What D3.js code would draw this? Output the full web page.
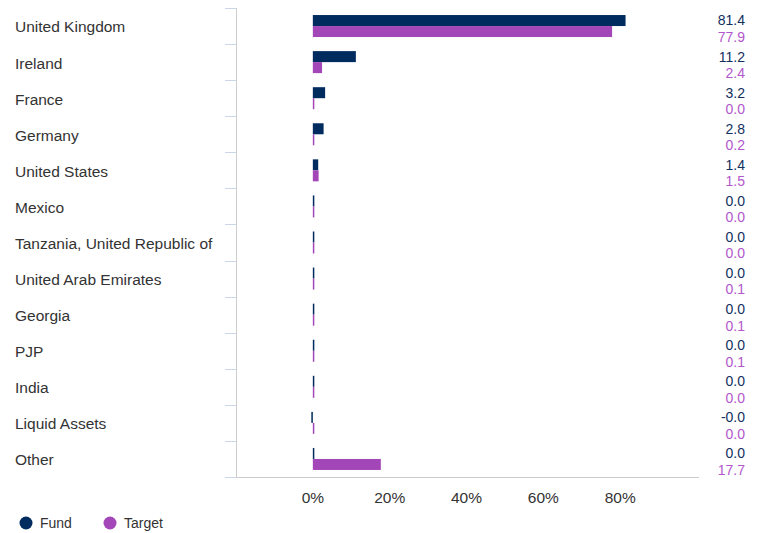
<!DOCTYPE html>
<html>
<head>
<meta charset="utf-8">
<script src="https://cdn.jsdelivr.net/npm/d3@7"></script>
<style>
  body { margin: 0; background: #fff; }
  svg { font-family: "Liberation Sans", Arial, sans-serif; }
</style>
</head>
<body>
<svg width="759" height="533"></svg>
<script>
// countries, top to bottom
var categories = ["United Kingdom", "Ireland", "France", "Germany", "United States", "Mexico",
    "Tanzania, United Republic of", "United Arab Emirates", "Georgia", "PJP", "India",
    "Liquid Assets", "Other"];
var fund = [81.4, 11.2, 3.2, 2.8, 1.4, 0.0, 0.0, 0.0, 0.0, 0.0, 0.0, -0.0, 0.0];
var target = [77.9, 2.4, 0.0, 0.2, 1.5, 0.0, 0.0, 0.1, 0.1, 0.1, 0.0, 0.0, 17.7];
var fundLabels = ["81.4", "11.2", "3.2", "2.8", "1.4", "0.0", "0.0", "0.0", "0.0", "0.0", "0.0", "-0.0", "0.0"];
var targetLabels = ["77.9", "2.4", "0.0", "0.2", "1.5", "0.0", "0.0", "0.1", "0.1", "0.1", "0.0", "0.0", "17.7"];
var xTicks = [0, 20, 40, 60, 80];
var seriesNames = ["Fund", "Target"];

var fundColor = "#002b5e", targetColor = "#a347b8";
var fundText = "#12305e", targetText = "#b257cc";

var svg = d3.select('svg');

var x = d3.scaleLinear().domain([-20, 100]).range([236, 697]);
var y = d3.scaleBand().domain(categories).range([8, 477]);

var sub = d3.scaleBand().domain(seriesNames).range([0, 22]);
var barOffset = (y.bandwidth() - 22) / 2;

// left axis line + tick marks
svg.append('line')
    .attr('x1', 236.5).attr('x2', 236.5)
    .attr('y1', 8).attr('y2', 477)
    .attr('stroke', '#ccc');

var bounds = categories.map(function (c) { return y(c); }).concat([477]);
svg.selectAll('.ytick')
    .data(bounds)
    .enter()
    .append('line')
    .attr('x1', 225).attr('x2', 236)
    .attr('y1', function (d) { return Math.round(d) + 0.5; })
    .attr('y2', function (d) { return Math.round(d) + 0.5; })
    .attr('stroke', '#ccd6eb');

// bottom axis line
svg.append('line')
    .attr('x1', 236).attr('x2', 699)
    .attr('y1', 477.5).attr('y2', 477.5)
    .attr('stroke', '#ccc');

// category labels
svg.selectAll('.cat')
    .data(categories)
    .enter()
    .append('text')
    .attr('x', 15)
    .attr('y', function (d) { return y(d) + y.bandwidth() / 2 + 1; })
    .attr('dy', '0.35em')
    .attr('fill', '#333')
    .style('font-size', '15.5px')
    .text(function (d) { return d; });

// bars
function barX(v) { return v < 0 || v === 0 && 1 / v < 0 ? x(v) - 1.5 : x(0); }
function barW(v) { return Math.max(1.5, Math.abs(x(v) - x(0))); }

var rows = categories.map(function (c, i) {
    return { cat: c, vals: [fund[i], target[i]], fl: fundLabels[i], tl: targetLabels[i] };
});

var groups = svg.selectAll('.row')
    .data(rows)
    .enter()
    .append('g')
    .attr('transform', function (d) { return 'translate(0,' + (y(d.cat) + barOffset) + ')'; });

groups.append('rect')
    .attr('x', function (d) { return barX(d.vals[0]); })
    .attr('y', sub('Fund'))
    .attr('width', function (d) { return barW(d.vals[0]); })
    .attr('height', sub.bandwidth())
    .attr('fill', fundColor);

groups.append('rect')
    .attr('x', function (d) { return barX(d.vals[1]); })
    .attr('y', sub('Target'))
    .attr('width', function (d) { return barW(d.vals[1]); })
    .attr('height', sub.bandwidth())
    .attr('fill', targetColor);

// value labels on the right
groups.append('text')
    .attr('x', 745)
    .attr('y', 11 - 5.5)
    .attr('dy', '0.35em')
    .attr('text-anchor', 'end')
    .attr('fill', fundText)
    .style('font-size', '14px')
    .text(function (d) { return d.fl; });

groups.append('text')
    .attr('x', 745)
    .attr('y', 11 + 11)
    .attr('dy', '0.35em')
    .attr('text-anchor', 'end')
    .attr('fill', targetText)
    .style('font-size', '14px')
    .text(function (d) { return d.tl; });

// x tick labels
svg.selectAll('.xtick')
    .data(xTicks)
    .enter()
    .append('text')
    .attr('x', function (d) { return x(d); })
    .attr('y', 502.5)
    .attr('text-anchor', 'middle')
    .attr('fill', '#333')
    .style('font-size', '15.5px')
    .text(function (d) { return d + '%'; });

// legend
var legend = svg.selectAll('.legend')
    .data(seriesNames)
    .enter()
    .append('g')
    .attr('transform', function (d, i) { return 'translate(' + (26 + i * 84) + ',523)'; });

legend.append('circle')
    .attr('r', 6.5)
    .attr('fill', function (d, i) { return i === 0 ? fundColor : targetColor; });

legend.append('text')
    .attr('x', 14)
    .attr('dy', '0.35em')
    .attr('fill', '#333')
    .style('font-size', '14px')
    .text(function (d) { return d; });
</script>
</body>
</html>
